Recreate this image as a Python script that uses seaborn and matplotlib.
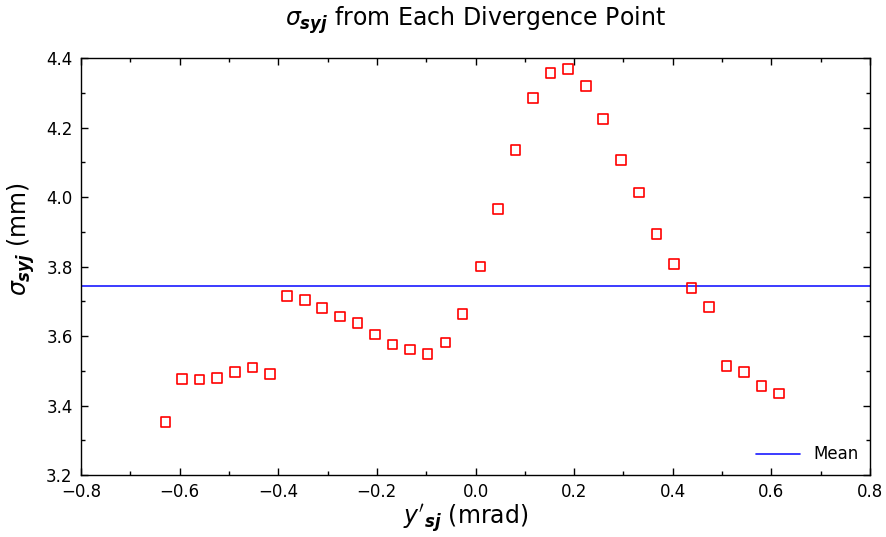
import matplotlib
matplotlib.use("Agg")
import matplotlib.pyplot as plt
import seaborn as sns
import pandas as pd
from matplotlib.ticker import MultipleLocator

# Data
divergence = [-0.629, -0.595, -0.560, -0.524, -0.488, -0.452, -0.417, -0.382,
              -0.346, -0.311, -0.275, -0.239, -0.204, -0.168, -0.133, -0.097,
              -0.061, -0.026, 0.010, 0.045, 0.081, 0.117, 0.152, 0.188,
              0.224, 0.259, 0.295, 0.331, 0.367, 0.402, 0.438, 0.473,
              0.509, 0.544, 0.580, 0.615]
sigma = [3.353, 3.476, 3.475, 3.479, 3.496, 3.509, 3.490, 3.716,
         3.703, 3.680, 3.656, 3.637, 3.604, 3.575, 3.561, 3.549,
         3.581, 3.663, 3.800, 3.966, 4.136, 4.284, 4.356, 4.369,
         4.320, 4.224, 4.106, 4.013, 3.893, 3.807, 3.738, 3.683,
         3.514, 3.497, 3.456, 3.435]
mean_value = 3.745
x_ticks = [-0.8, -0.6, -0.4, -0.2, 0.0, 0.2, 0.4, 0.6, 0.8]
y_ticks = [3.2, 3.4, 3.6, 3.8, 4.0, 4.2, 4.4]

sns.set_style("ticks")
plt.rcParams['font.family'] = ['DejaVu Sans']
plt.rcParams['mathtext.fontset'] = 'dejavusans'
plt.rcParams['text.color'] = 'black'
plt.rcParams['axes.labelcolor'] = 'black'
plt.rcParams['xtick.color'] = 'black'
plt.rcParams['ytick.color'] = 'black'

df = pd.DataFrame({"x": divergence, "y": sigma})

fig = plt.figure(figsize=(8.87, 5.37), dpi=100)
ax = fig.add_axes([81/887, 1 - 475/537, (870 - 81)/887, (475 - 58)/537])

sns.scatterplot(data=df, x="x", y="y", ax=ax, marker="s", s=48,
                facecolor="none", edgecolor="#ff0000", linewidth=1.2,
                legend=False, zorder=3)
ax.axhline(mean_value, color="#1a1aff", linewidth=1.2, label="Mean", zorder=2)

ax.set_xlim(-0.8, 0.8)
ax.set_ylim(3.2, 4.4)
ax.set_xticks(x_ticks)
ax.set_yticks(y_ticks)
ax.set_xticklabels([f"{t:.1f}".replace("-", "\u2212") for t in x_ticks])
ax.set_yticklabels([f"{t:.1f}" for t in y_ticks])
ax.xaxis.set_minor_locator(MultipleLocator(0.1))
ax.yaxis.set_minor_locator(MultipleLocator(0.1))
ax.tick_params(which="both", direction="in", top=True, right=True,
               color="black", labelcolor="black", width=1.0)
ax.tick_params(which="major", length=5, labelsize=12)
ax.tick_params(axis="x", which="major", pad=6)
ax.tick_params(axis="y", which="major", pad=6)
ax.tick_params(which="minor", length=3)
for sp in ax.spines.values():
    sp.set_color("black")
    sp.set_linewidth(1.0)

ax.set_xlabel(r"$y'_{\mathbfit{sj}}$ (mrad)", fontsize=17)
ax.set_ylabel(r"$\sigma_{\mathbfit{syj}}$ (mm)", fontsize=17)
ax.xaxis.set_label_coords(0.487, -0.066)
ax.yaxis.set_label_coords(-0.056, 0.565)
ax.set_title(r"$\sigma_{\mathbfit{syj}}$ from Each Divergence Point",
             fontsize=17, pad=23)

leg = ax.legend(loc="lower right", frameon=False, fontsize=12, handlelength=2.6,
                borderaxespad=0.3)

fig.savefig("out.png", dpi=100, facecolor="white")
